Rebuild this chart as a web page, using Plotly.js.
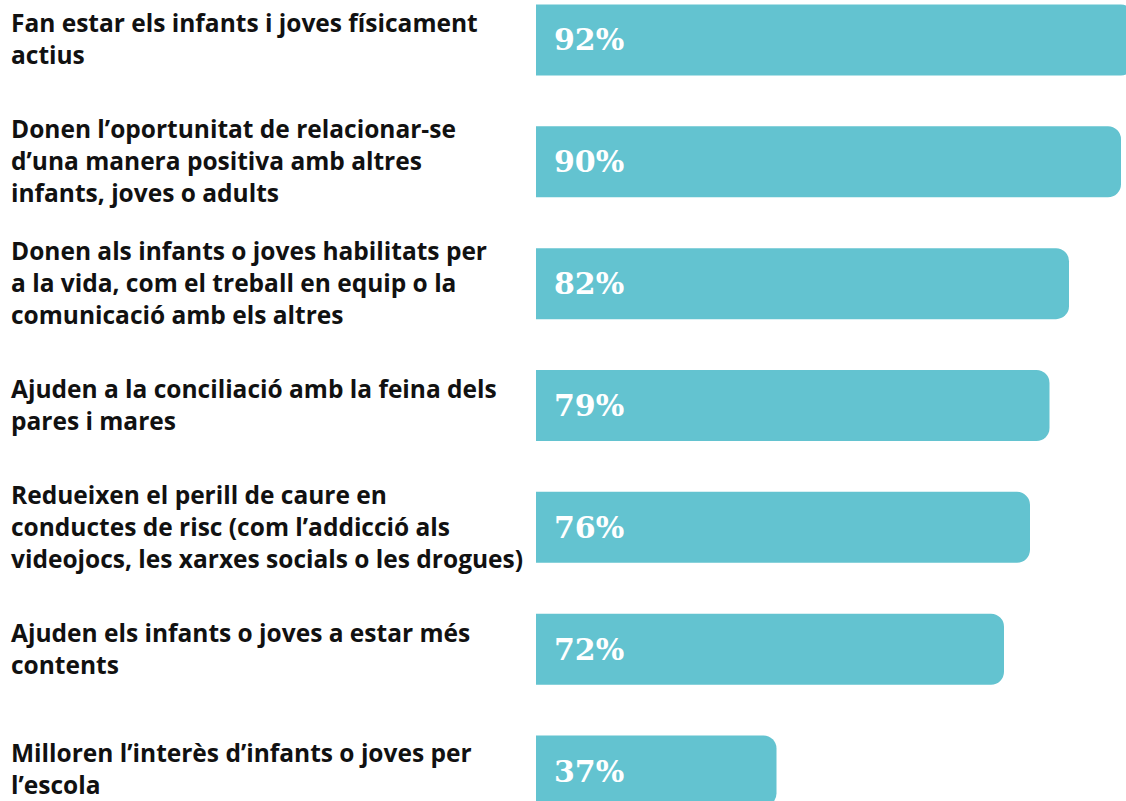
<!DOCTYPE html>
<html>
<head>
<meta charset="utf-8">
<script src="https://cdn.plot.ly/plotly-3.0.1.min.js"></script>
<style>
html,body{margin:0;padding:0;background:#fff;overflow:hidden;}
#chart{width:1126px;height:801px;}
</style>
</head>
<body>
<div id="chart"></div>
<script>
const categories = [
  "Fan estar els infants i joves físicament<br>actius",
  "Donen l’oportunitat de relacionar-se<br>d’una manera positiva amb altres<br>infants, joves o adults",
  "Donen als infants o joves habilitats per<br>a la vida, com el treball en equip o la<br>comunicació amb els altres",
  "Ajuden a la conciliació amb la feina dels<br>pares i mares",
  "Redueixen el perill de caure en<br>conductes de risc (com l’addicció als<br>videojocs, les xarxes socials o les drogues)",
  "Ajuden els infants o joves a estar més<br>contents",
  "Milloren l’interès d’infants o joves per<br>l’escola"
];
const values = [92, 90, 82, 79, 76, 72, 37];
const ids = categories.map((c, i) => "c" + i);

const barColor = "#63C3D0";

const trace = {
  type: "bar",
  orientation: "h",
  x: values,
  y: ids,
  marker: {color: barColor, line: {width: 0}},
  width: 0.583,
  hoverinfo: "skip",
  cliponaxis: true
};

const annotations = [];
categories.forEach((c, i) => {
  annotations.push({
    xref: "paper", yref: "y",
    x: 9 / 1126, y: ids[i],
    xanchor: "left", yanchor: "middle",
    yshift: i === categories.length - 1 ? 3 : 1,
    align: "left",
    text: "<b>" + c + "</b>",
    showarrow: false,
    font: {family: "Open Sans, sans-serif", size: 24.5, color: "#111111"}
  });
  annotations.push({
    xref: "x", yref: "y",
    x: 0, y: ids[i],
    xanchor: "left", yanchor: "middle",
    xshift: 16,
    text: "<b>" + values[i] + "%</b>",
    showarrow: false,
    font: {family: "DejaVu Serif, serif", size: 30, color: "#ffffff"}
  });
});

const layout = {
  width: 1126, height: 801,
  margin: {l: 0, r: 0, t: 0, b: 0, pad: 0},
  paper_bgcolor: "#ffffff",
  plot_bgcolor: "#ffffff",
  showlegend: false,
  barcornerradius: 13,
  xaxis: {
    domain: [536 / 1126, 1],
    range: [0, 590 / 6.5],
    visible: false, fixedrange: true
  },
  yaxis: {
    type: "category",
    range: [6.246, -0.328],
    visible: false, fixedrange: true
  },
  annotations: annotations
};

Plotly.newPlot("chart", [trace], layout, {displayModeBar: false, staticPlot: true});
</script>
</body>
</html>
